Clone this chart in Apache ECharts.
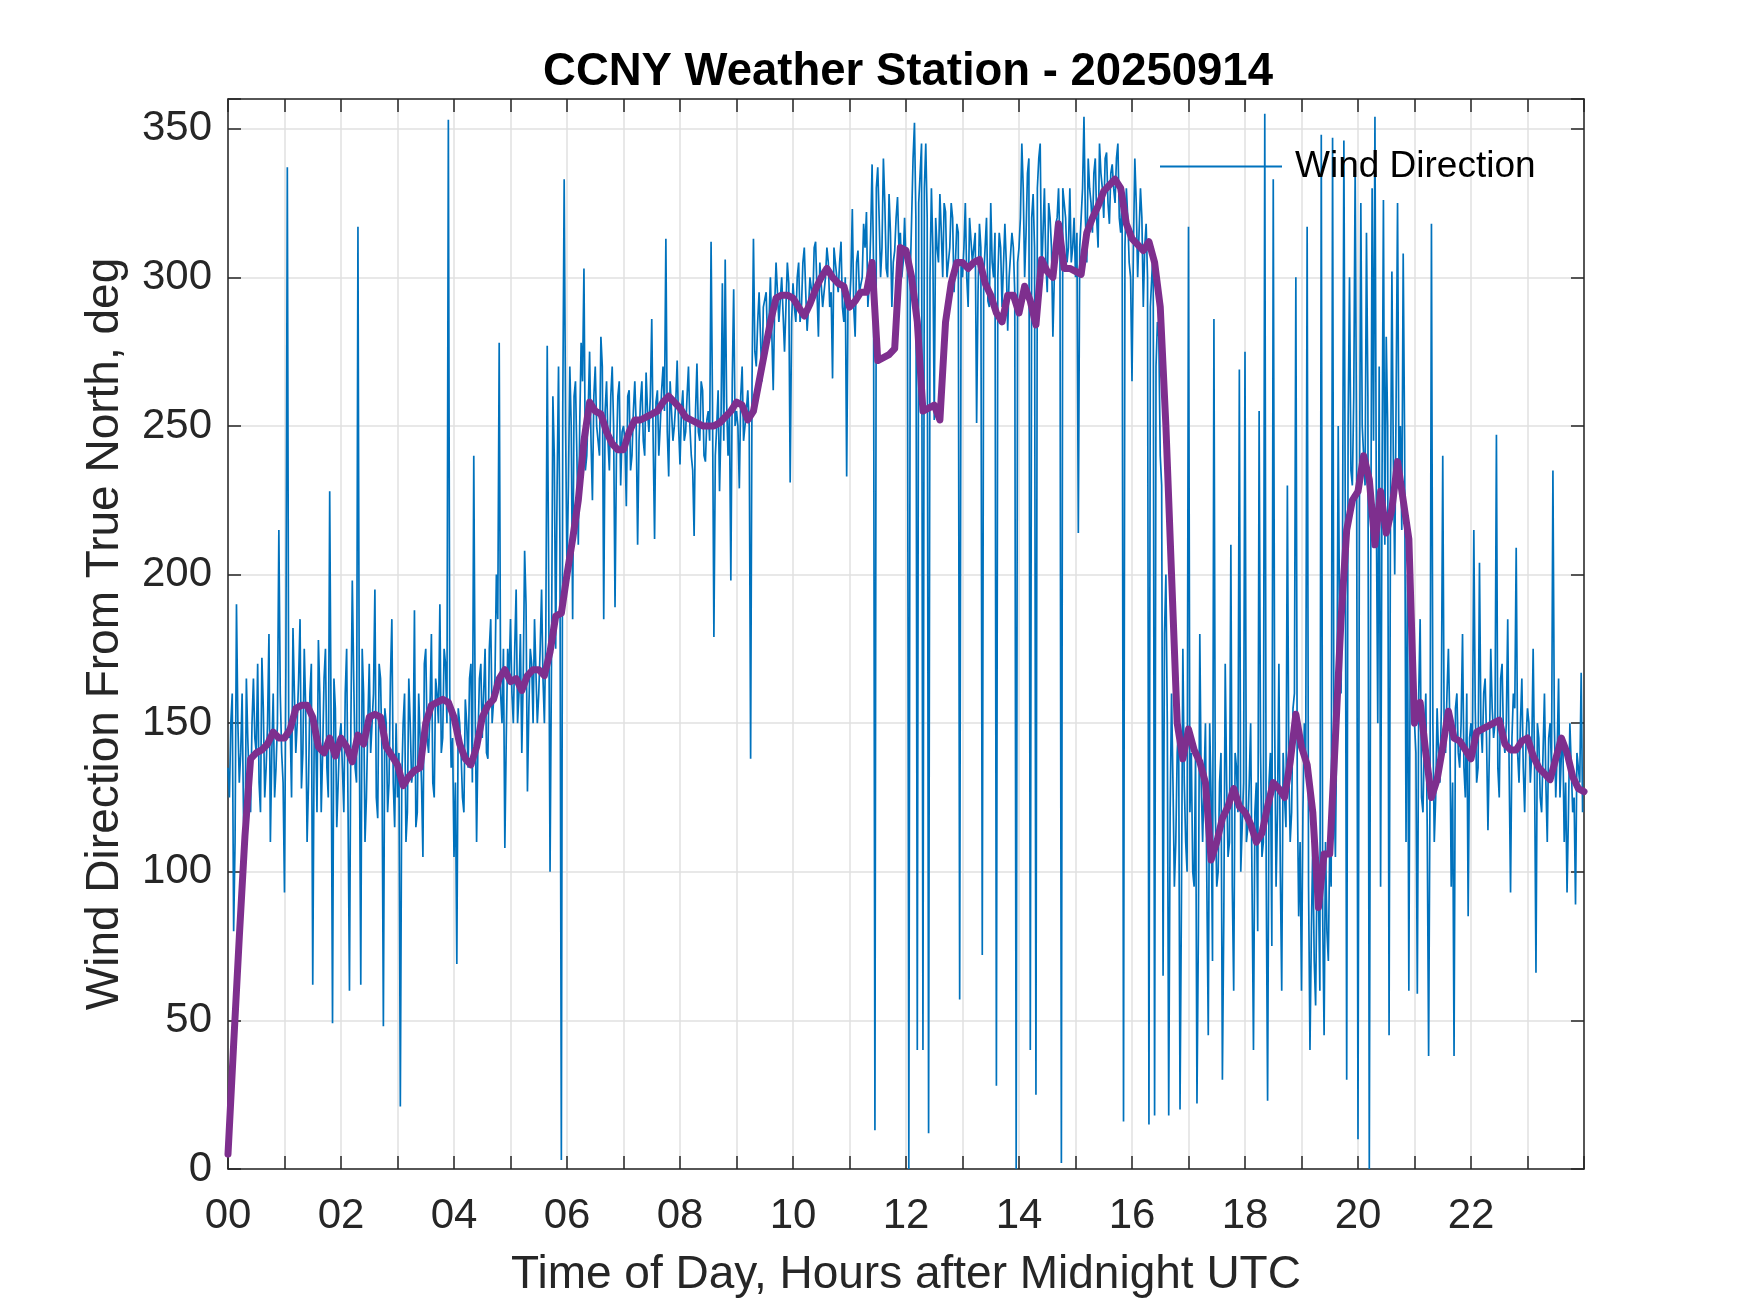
<!DOCTYPE html>
<html>
<head>
<meta charset="utf-8">
<script src="https://cdn.jsdelivr.net/npm/echarts@6/dist/echarts.min.js"></script>
<style>
html,body{margin:0;padding:0;background:#fff;}
#chart{width:1750px;height:1313px;}
</style>
</head>
<body>
<div id="chart"></div>
<script>
// ---- Data ----
const titleText = 'CCNY Weather Station - 20250914';
const xTickLabels = ['00','02','04','06','08','10','12','14','16','18','20','22'];
const yTickLabels = ['0','50','100','150','200','250','300','350'];

// Raw wind direction, samples on the 3-minute marks (deg)
const windDir00to06 = [
  135,150,80,190,130,160,105,145,120,165,140,130,172,125,150,110,160,135,215,140,
  93,337,150,182,140,165,128,175,110,160,62,150,178,120,165,135,228,49,155,130,
  150,120,175,60,198,135,317,62,160,125,170,140,195,118,165,48,150,130,185,115,
  125,21,150,110,165,130,188,120,145,105,175,140,180,125,160,190,145,170,353,135,
  105,69,150,125,158,135,170,240,110,165,145,175,138,185,150,200,278,150,108,175,
  185,150,195,160,140,208,127,175,150,185,160,195,150,277,100,260,175,270,3,333
];
const windDir06to12 = [
  200,270,185,265,210,278,303,240,275,225,270,245,280,185,265,235,270,189,260,230,
  250,223,262,240,265,210,258,245,268,248,286,212,262,250,270,313,233,265,250,272,
  237,262,248,270,240,213,271,245,262,238,255,312,179,250,228,298,306,240,198,296,
  255,229,270,245,262,138,313,270,295,265,290,278,300,262,305,285,300,275,305,231,
  298,285,305,290,310,282,300,292,312,280,305,295,310,290,266,305,295,312,285,233,
  290,323,280,309,295,318,322,298,338,13,337,300,340,303,328,290,309,327,315,305
];
const windDir12to18 = [
  305,0,320,352,40,335,40,345,12,330,252,310,328,300,322,305,325,295,318,57,
  300,325,290,320,305,251,318,72,310,292,325,300,28,315,290,318,282,300,310,0,
  310,345,300,335,40,328,25,340,300,330,295,320,280,318,330,2,325,305,330,310,
  300,214,320,354,305,330,315,340,310,335,320,342,318,338,325,345,315,16,330,305,
  265,340,300,330,290,318,15,300,18,285,240,65,200,18,160,95,140,20,175,110,
  317,140,95,22,180,110,150,45,125,286,95,130,30,170,105,210,60,135,269,100
];
const windDir18to24 = [
  275,115,150,40,130,255,105,355,23,140,333,95,170,60,125,230,110,155,300,85,
  60,150,317,40,110,55,94,348,45,80,110,347,105,250,160,346,30,300,230,337,
  10,325,240,315,0,330,354,150,95,326,280,45,302,200,325,250,308,110,60,190,
  150,59,185,120,160,38,318,110,155,130,240,140,175,95,38,160,135,180,125,85,
  150,215,130,204,140,165,114,175,145,247,125,170,140,185,93,160,209,130,165,120,
  155,130,175,66,145,120,160,110,150,235,125,165,140,110,93,150,120,89,140,167
];

// Raw wind direction, samples half-way between the 3-minute marks (deg)
const windDirMid00to06 = [
  125,160,110,150,140,118,165,130,150,145,170,120,155,135,180,140,125,150,160,130,
  170,145,125,160,150,185,140,155,130,170,145,120,160,140,175,125,150,165,115,145,
  135,160,120,150,165,130,145,175,110,150,140,160,125,170,140,155,120,165,130,150,
  140,130,160,120,150,135,115,160,130,170,145,155,130,165,150,140,175,150,160,145,
  130,155,140,120,150,165,130,155,145,170,160,140,175,150,165,185,160,175,145,165,
  160,175,150,180,165,190,155,170,185,150,175,165,180,200,170,240,230,210,255,250
];
const windDirMid06to12 = [
  230,250,260,240,250,265,235,255,245,260,250,240,270,255,245,260,250,240,265,248,
  245,260,235,255,250,245,265,240,255,260,245,258,240,262,255,248,265,245,258,250,
  255,245,260,250,235,255,248,265,240,252,245,258,240,262,250,245,258,255,265,250,
  250,260,245,255,250,265,275,285,280,290,295,285,300,290,295,285,300,290,298,285,
  290,300,285,305,295,290,300,310,295,305,290,300,305,295,310,300,305,290,300,295,
  300,290,305,295,300,310,290,315,305,330,320,310,325,300,315,305,320,310,300,320
];
const windDirMid12to18 = [
  310,300,340,320,325,345,330,320,300,310,320,305,315,325,300,310,320,305,315,305,
  310,300,320,305,315,295,310,300,320,290,305,315,300,310,290,305,300,315,295,305,
  320,330,315,340,320,310,330,345,315,305,325,310,300,320,310,330,320,310,305,320,
  315,310,330,320,340,325,335,320,345,330,340,325,335,330,340,320,330,310,320,300,
  310,325,300,320,310,300,290,310,270,280,230,180,150,120,130,110,150,90,130,100,
  120,100,140,80,130,110,95,150,70,120,100,140,85,130,110,95,140,120,100,130
];
const windDirMid18to24 = [
  110,130,95,120,80,140,110,100,130,75,150,120,100,140,115,135,120,160,130,110,
  120,140,95,80,70,100,60,85,110,70,95,130,150,180,200,220,250,235,260,240,
  220,250,230,260,200,245,220,270,230,210,250,225,240,260,235,215,245,200,180,160,
  140,160,125,145,115,130,150,125,140,155,145,160,150,130,155,140,150,135,160,145,
  140,155,135,150,160,145,140,155,150,135,165,145,150,135,145,155,140,150,135,145,
  150,140,135,150,125,140,130,145,135,150,140,125,145,130,120,135,125,140,130,120
];

// Smoothed wind direction, one value every 6 minutes (deg)
const smooth00to06 = [
  5,42,78,112,138,140,141,143,147,145,
  145,148,155,156,156,152,142,140,145,139,
  145,142,137,146,143,152,153,152,142,139,
  136,129,132,134,135,150,156,157,158,157,
  152,143,138,136,142,152,156,158,165,168,
  164,165,161,166,168,168,166,174,186,187
];
const smooth06to12 = [
  200,212,225,245,258,255,254,248,244,242,
  242,248,252,252,253,254,255,258,260,258,
  256,253,252,251,250,250,250,251,253,255,
  258,257,252,255,265,275,285,293,294,294,
  293,290,287,291,296,300,303,300,298,297,
  290,292,295,295,305,272,273,274,276,310
];
const smooth12to18 = [
  309,300,285,255,256,257,252,285,298,305,
  305,303,305,306,298,294,288,285,294,294,
  288,297,292,284,306,302,300,318,303,303,
  302,301,315,320,324,329,331,333,330,318,
  313,311,309,312,305,290,250,200,150,138,
  148,141,137,130,104,110,118,122,128,122
];
const smooth18to24 = [
  120,116,110,113,122,130,128,125,137,153,
  142,136,120,88,106,106,145,185,215,225,
  228,240,232,210,228,214,222,238,225,212,
  150,157,140,125,131,142,154,145,144,141,
  138,147,148,149,150,151,143,141,141,144,
  145,139,135,133,131,138,145,140,132,128,127
];

const windDir = [].concat(windDir00to06, windDir06to12, windDir12to18, windDir18to24);
const windDirMid = [].concat(windDirMid00to06, windDirMid06to12, windDirMid12to18, windDirMid18to24);
const smoothDir = [].concat(smooth00to06, smooth06to12, smooth12to18, smooth18to24);
const windPts = [];
windDir.forEach((v, i) => {
  windPts.push([i * 3 / 60, v]);
  windPts.push([(i * 3 + 1.5) / 60, windDirMid[i]]);
});
const smoothPts = smoothDir.map((v, i) => [i * 6 / 60, v]);

// ---- Styling ----
const FONT = '"Liberation Sans", Arial, Helvetica, sans-serif';
const AX = '#262626';
const GRIDC = '#e0e0e0';

const axisCommon = {
  axisLine: { show: true, onZero: false, lineStyle: { color: AX, width: 1.5 } },
  axisTick: { show: true, inside: true, length: 13, lineStyle: { color: AX, width: 1.5 } }
};

const chart = echarts.init(document.getElementById('chart'), null, { renderer: 'canvas' });
chart.setOption({
  animation: false,
  backgroundColor: '#ffffff',
  title: {
    text: titleText,
    left: 903, top: 44, textAlign: 'center',
    textStyle: { fontFamily: FONT, fontSize: 45.5, fontWeight: 'bold', color: '#000000' }
  },
  legend: {
    data: ['Wind Direction'],
    left: 1154, top: 143,
    itemWidth: 122, itemHeight: 37,
    itemStyle: { opacity: 0 },
    lineStyle: { width: 2 },
    textStyle: { fontFamily: FONT, fontSize: 37, color: '#000000', padding: [0, 0, 0, 8] },
    selectedMode: false
  },
  grid: { left: 228, top: 99, width: 1356, height: 1070, containLabel: false },
  xAxis: [
    Object.assign({
      type: 'value', min: 0, max: 24, interval: 1, position: 'bottom',
      name: 'Time of Day, Hours after Midnight UTC', nameLocation: 'middle', nameGap: 83,
      nameTextStyle: { fontFamily: FONT, fontSize: 46, color: AX },
      axisLabel: {
        margin: 26, fontFamily: FONT, fontSize: 42, color: AX,
        formatter: v => (v % 2 === 0 && v < 24) ? xTickLabels[v / 2] : ''
      },
      splitLine: { show: true, lineStyle: { color: GRIDC, width: 1.5 } }
    }, axisCommon),
    Object.assign({
      type: 'value', min: 0, max: 24, interval: 1, position: 'top',
      axisLabel: { show: false }, splitLine: { show: false }
    }, axisCommon)
  ],
  yAxis: [
    Object.assign({
      type: 'value', min: 0, max: 360, interval: 50, position: 'left',
      name: 'Wind Direction From True North, deg', nameLocation: 'middle', nameGap: 100, nameRotate: 90,
      nameTextStyle: { fontFamily: FONT, fontSize: 46, color: AX },
      axisLabel: {
        margin: 16, fontFamily: FONT, fontSize: 42, color: AX,
        formatter: v => (v % 50 === 0 && v <= 350) ? yTickLabels[v / 50] : ''
      },
      splitLine: { show: true, lineStyle: { color: GRIDC, width: 1.5 } }
    }, axisCommon),
    Object.assign({
      type: 'value', min: 0, max: 360, interval: 50, position: 'right',
      axisLabel: { show: false }, splitLine: { show: false }
    }, axisCommon)
  ],
  series: [
    {
      name: 'Wind Direction', type: 'line', data: windPts,
      xAxisIndex: 0, yAxisIndex: 0,
      symbol: 'none', showSymbol: false,
      lineStyle: { color: '#0072BD', width: 1.7 },
      itemStyle: { color: '#0072BD' },
      z: 3, silent: true
    },
    {
      name: 'Smoothed', type: 'line', data: smoothPts,
      xAxisIndex: 0, yAxisIndex: 0,
      symbol: 'none', showSymbol: false,
      lineStyle: { color: '#7E2F8E', width: 7, join: 'round', cap: 'round' },
      itemStyle: { color: '#7E2F8E' },
      z: 4, silent: true
    }
  ]
});
</script>
</body>
</html>
